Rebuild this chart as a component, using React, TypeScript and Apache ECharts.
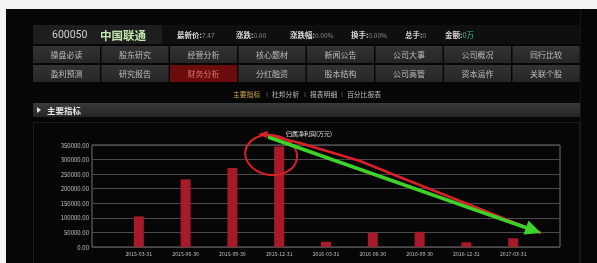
import React, { useEffect, useRef } from "react";
import * as echarts from "echarts";

const categories = ["2015-03-31", "2015-06-30", "2015-09-30", "2015-12-31", "2016-03-31", "2016-06-30", "2016-09-30", "2016-12-31", "2017-03-31"];
const netProfit = [105000, 232000, 271000, 345000, 18000, 49000, 52000, 16000, 30000];
const seriesName = "归属净利润(万元)";
const navRow1 = ["操盘必读", "股东研究", "经营分析", "核心题材", "新闻公告", "公司大事", "公司概况", "同行比较"];
const navRow2 = ["盈利预测", "研究报告", "财务分析", "分红融资", "股本结构", "公司高管", "资本运作", "关联个股"];
const quoteLabels = ["最新价:", "涨跌:", "涨跌幅:", "换手:", "总手:", "金额:"];
const quoteValues = ["7.47", "0.00", "0.00%", "0.00%", "0", "0万"];
const subNav = ["主要指标", "杜邦分析", "报表明细", "百分比报表"];

const CJK = '"Noto Sans CJK SC", "Noto Sans", sans-serif';

export default function App() {
  const ref = useRef<HTMLDivElement>(null);
  useEffect(() => {
    if (!ref.current) return;
    const chart = echarts.init(ref.current, null, { renderer: "svg" });
    const g: any[] = [];
    // outer white frame
    g.push({ type: "rect", z: -10, shape: { x: 0, y: 0, width: 597, height: 263 }, style: { fill: "#f4f4f4" } });
    g.push({ type: "rect", z: -9, shape: { x: 6, y: 9, width: 591, height: 254 }, style: { fill: "#060606" } });
    g.push({ type: "line", z: -8, shape: { x1: 580.5, y1: 9, x2: 580.5, y2: 263 }, style: { stroke: "#141414", lineWidth: 1 } });
    // header row
    g.push({ type: "rect", z: -8, shape: { x: 33, y: 25, width: 547, height: 19 }, style: { fill: "#0f0f0f" } });
    g.push({ type: "rect", z: -7, shape: { x: 33, y: 25, width: 129, height: 19 }, style: { fill: "#1e1e1e" } });
    g.push({ type: "text", z: 1, x: 52, y: 34.5, style: { text: "600050", fill: "#cfcfcf", fontSize: 10.5, fontFamily: "Roboto, sans-serif", verticalAlign: "middle" } });
    g.push({ type: "text", z: 1, x: 100, y: 34.5, style: { text: "中国联通", fill: "#bfe6b0", fontSize: 11.5, fontWeight: "bold", fontFamily: CJK, verticalAlign: "middle" } });
    const qx = [177, 236, 290, 351, 405, 445];
    quoteLabels.forEach((l, i) => {
      g.push({
        type: "text", z: 1, x: qx[i], y: 34.5,
        style: {
          text: "{a|" + l + "}{" + (i === 5 ? "c" : "b") + "|" + quoteValues[i] + "}",
          verticalAlign: "middle",
          rich: {
            a: { fill: "#d8d8d8", fontSize: 7.5, fontWeight: "bold", fontFamily: CJK },
            b: { fill: "#8a8a8a", fontSize: 6.5, fontFamily: CJK },
            c: { fill: "#3fbf9a", fontSize: 7.5, fontFamily: CJK },
          },
        },
      });
    });
    // nav buttons
    const bx0 = 33, pitch = 68.5, bw = 67;
    [navRow1, navRow2].forEach((row, r) => {
      const y = r === 0 ? 46 : 65;
      row.forEach((label, i) => {
        const active = r === 1 && i === 2;
        g.push({
          type: "rect", z: -6,
          shape: { x: bx0 + i * pitch, y, width: bw, height: 17 },
          style: {
            fill: active
              ? "#6a0c0c"
              : new echarts.graphic.LinearGradient(0, 0, 0, 1, [
                  { offset: 0, color: "#333333" },
                  { offset: 1, color: "#262626" },
                ]),
          },
        });
        g.push({
          type: "text", z: 1, x: bx0 + i * pitch + bw / 2, y: y + 8.5,
          style: { text: label, fill: active ? "#e07070" : "#bdbdbd", fontSize: 8, fontFamily: CJK, align: "center", verticalAlign: "middle" },
        });
      });
    });
    // sub nav
    const sx = [233, 272, 310, 347];
    subNav.forEach((s, i) => {
      g.push({ type: "text", z: 1, x: sx[i], y: 94, style: { text: s, fill: i === 0 ? "#d1a646" : "#bcbcbc", fontSize: 6.8, fontFamily: CJK, verticalAlign: "middle" } });
      if (i > 0) g.push({ type: "text", z: 1, x: sx[i] - 5, y: 94, style: { text: "|", fill: "#888", fontSize: 6, align: "center", verticalAlign: "middle" } });
    });
    // section bar
    g.push({
      type: "rect", z: -6, shape: { x: 33, y: 103, width: 547, height: 14 },
      style: { fill: new echarts.graphic.LinearGradient(0, 0, 0, 1, [{ offset: 0, color: "#3a3a3a" }, { offset: 1, color: "#252525" }]) },
    });
    g.push({ type: "polygon", z: 1, shape: { points: [[37, 107], [37, 113], [41, 110]] }, style: { fill: "#e0e0e0" } });
    g.push({ type: "text", z: 1, x: 47, y: 110, style: { text: "主要指标", fill: "#e6e6e6", fontSize: 8.5, fontWeight: "bold", fontFamily: CJK, verticalAlign: "middle" } });
    // chart box
    g.push({ type: "rect", z: -6, shape: { x: 33.5, y: 122.5, width: 546, height: 150 }, style: { fill: "none", stroke: "#1c1c1c", lineWidth: 1 } });
    // hand-drawn annotations
    g.push({ type: "ellipse", z: 100, rotation: -0.15, originX: 271, originY: 155, shape: { cx: 271, cy: 155, rx: 26, ry: 20 }, style: { fill: "none", stroke: "#d8202a", lineWidth: 2 } });
    g.push({ type: "polyline", z: 100, shape: { points: [[263, 134], [300, 143], [360, 161], [397, 176], [470, 205], [541, 233]] }, style: { stroke: "#d8202a", lineWidth: 2.5, fill: "none" } });
    g.push({ type: "polygon", z: 100, shape: { points: [[258, 134], [268, 131], [267, 138]] }, style: { fill: "#d8202a" } });
    g.push({ type: "line", z: 101, shape: { x1: 268, y1: 137, x2: 527, y2: 228 }, style: { stroke: "#3ed12a", lineWidth: 3.5 } });
    g.push({ type: "polygon", z: 101, shape: { points: [[541, 233], [523.5, 234.5], [528.5, 220.5]] }, style: { fill: "#3ed12a" } });

    chart.setOption({
      animation: false,
      backgroundColor: "transparent",
      textStyle: { fontFamily: CJK },
      grid: { left: 92, top: 145, width: 468, height: 102, show: true, borderColor: "#707070", borderWidth: 1 },
      legend: {
        data: [seriesName], left: 281, top: 130, padding: 0, itemWidth: 0, itemHeight: 0, itemGap: 0,
        textStyle: { color: "#e0e0e0", fontSize: 6, fontFamily: CJK },
      },
      xAxis: {
        type: "category", data: ["", ...categories, ""], boundaryGap: false,
        axisLine: { show: false }, axisTick: { show: false },
        axisLabel: { interval: 0, fontSize: 5.2, color: "#c0c0c0", margin: 4 },
      },
      yAxis: {
        type: "value", min: 0, max: 350000, interval: 50000,
        axisLine: { show: false }, axisTick: { show: false },
        axisLabel: { formatter: (v: number) => v.toFixed(2), fontSize: 6, color: "#c0c0c0", margin: 3 },
        splitLine: { lineStyle: { color: "#4a4a4a", width: 1 } },
      },
      series: [
        { type: "bar", name: seriesName, data: [null, ...netProfit, null], barWidth: 10, itemStyle: { color: "#a8192a" }, z: 2 },
      ],
      graphic: g,
    });
    return () => chart.dispose();
  }, []);
  return <div ref={ref} style={{ position: "fixed", left: 0, top: 0, width: 597, height: 263 }} />;
}
